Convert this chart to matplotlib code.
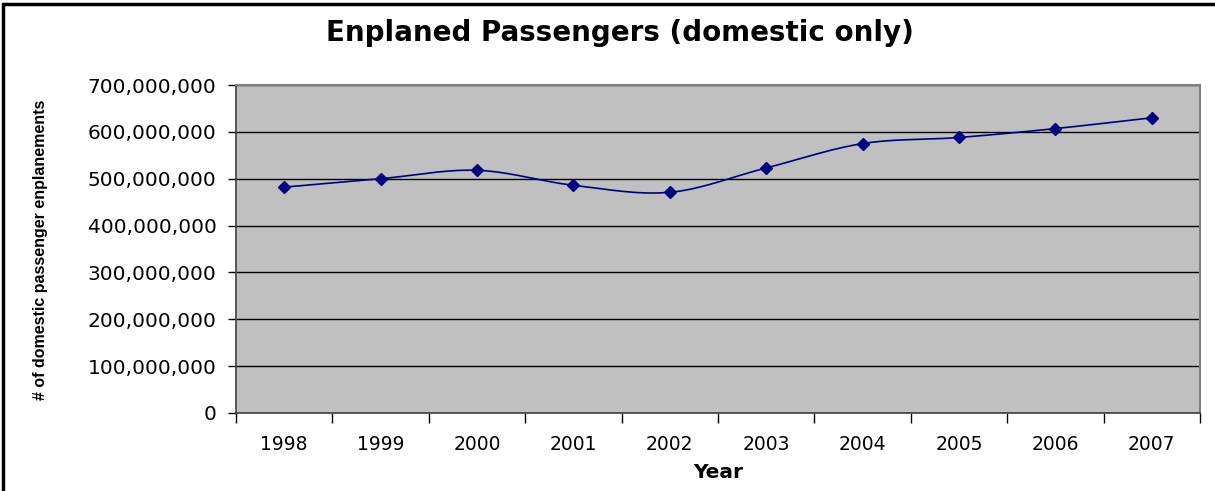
import numpy as np
import matplotlib
matplotlib.use("Agg")
import matplotlib.pyplot as plt
from matplotlib.ticker import FuncFormatter, FixedLocator
from matplotlib.patches import Rectangle

# Domestic enplanements per year
years = ['1998', '1999', '2000', '2001', '2002', '2003', '2004', '2005', '2006', '2007']
passengers = [482e6, 500e6, 518e6, 486e6, 471e6, 523e6, 575e6, 588e6, 607e6, 630e6]
yticks = [0, 100e6, 200e6, 300e6, 400e6, 500e6, 600e6, 700e6]


def smooth(x, y, steps=30):
    # Catmull-Rom curve through the points, like a spreadsheet's smoothed line
    x = np.asarray(x, float)
    y = np.asarray(y, float)
    px = np.concatenate([[2 * x[0] - x[1]], x, [2 * x[-1] - x[-2]]])
    py = np.concatenate([[2 * y[0] - y[1]], y, [2 * y[-1] - y[-2]]])
    t = np.linspace(0, 1, steps)
    xs, ys = [], []
    for i in range(1, len(px) - 2):
        for p, out in ((px, xs), (py, ys)):
            p0, p1, p2, p3 = p[i - 1], p[i], p[i + 1], p[i + 2]
            out.append(0.5 * ((2 * p1) + (-p0 + p2) * t
                              + (2 * p0 - 5 * p1 + 4 * p2 - p3) * t ** 2
                              + (-p0 + 3 * p1 - 3 * p2 + p3) * t ** 3))
    return np.concatenate(xs), np.concatenate(ys)


plt.rcParams['font.family'] = ['DejaVu Sans']

fig = plt.figure(figsize=(12.15, 4.91), dpi=100)
ax = fig.add_axes([236 / 1215, 1 - 413 / 491, (1200 - 236) / 1215, (413 - 85) / 491])
ax.set_facecolor('#c0c0c0')

x = np.arange(len(years))
sx, sy = smooth(x, passengers)
ax.plot(sx, sy, color='#000080', linewidth=1.2, zorder=3)
ax.plot(x, passengers, linestyle='none', marker='D', markersize=6,
        color='#000080', zorder=4)

ax.set_xlim(-0.5, len(years) - 0.5)
ax.set_ylim(0, 700e6)

ax.yaxis.set_major_locator(FixedLocator(yticks))
ax.yaxis.set_major_formatter(FuncFormatter(lambda v, pos: f'{v:,.0f}'))
ax.grid(axis='y', color='black', linewidth=1)
ax.set_axisbelow(True)

ax.set_xticks(x)
ax.set_xticklabels(years)
ax.set_xticks(np.arange(len(years) + 1) - 0.5, minor=True)
ax.tick_params(axis='x', which='major', length=0, pad=16, labelsize=13.5)
ax.tick_params(axis='x', which='minor', length=7, width=1, color='black')
ax.tick_params(axis='y', length=6, width=1, color='black', pad=8, labelsize=14.5)

for side in ('top', 'right'):
    ax.spines[side].set_color('#808080')
    ax.spines[side].set_linewidth(1.5)
for side in ('left', 'bottom'):
    ax.spines[side].set_color('#404040')
    ax.spines[side].set_linewidth(1.2)

ax.set_xlabel('Year', fontsize=14.5, fontweight='bold', labelpad=6)

fig.text(620 / 1215, 1 - 33 / 491, 'Enplaned Passengers (domestic only)',
         ha='center', va='center', fontsize=20, fontweight='bold')
fig.text(41 / 1215, 1 - 250 / 491, '# of domestic passenger enplanements',
         ha='center', va='center', rotation=90, fontsize=11.5,
         fontweight='bold', family=['Liberation Sans', 'DejaVu Sans'])

# outer frame of the chart
fig.patches.append(Rectangle((3 / 1215, -0.1), 1.2, 1 - 4 / 491 + 0.1,
                             transform=fig.transFigure, fill=False,
                             edgecolor='black', linewidth=2.5))

fig.savefig('out.png', dpi=100)
